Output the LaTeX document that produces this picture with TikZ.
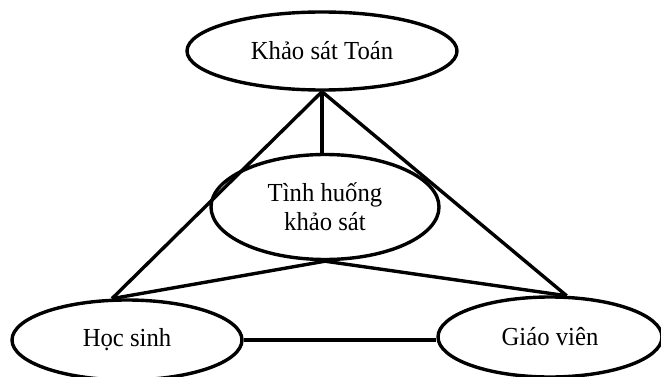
\documentclass[tikz,border=0pt]{standalone}
\usepackage{fontspec}
\setmainfont{Liberation Serif}[FakeStretch=0.95]
\usetikzlibrary{shapes.geometric}
\begin{document}
\begin{tikzpicture}[x=1pt,y=-1pt,
  oval/.style={draw,ellipse,line width=3.4pt,inner sep=0pt,fill=white,
    font=\fontsize{26}{29}\selectfont,align=center},
  link/.style={line width=3.4pt}]
\useasboundingbox (0,0) rectangle (661,377);
\node[oval,minimum width=270pt,minimum height=78pt] (top) at (322,51) {Khảo sát Toán};
\node[oval,minimum width=228pt,minimum height=105pt] (mid) at (325,207) {Tình huống\\khảo sát};
\node[oval,minimum width=230pt,minimum height=80pt] (hs) at (127,340) {Học sinh};
\node[oval,minimum width=224pt,minimum height=80pt] (gv) at (550,337) {Giáo viên};
\draw[link] (top.south) -- (mid.north -| top.south);
\draw[link] (top.south) -- (hs.110);
\draw[link] (top.south) -- (gv.68);
\draw[link] (mid.south) -- (hs.110);
\draw[link] (mid.south) -- (gv.68);
\draw[link] (hs.east) -- (gv.west |- hs.east);
\end{tikzpicture}
\end{document}
